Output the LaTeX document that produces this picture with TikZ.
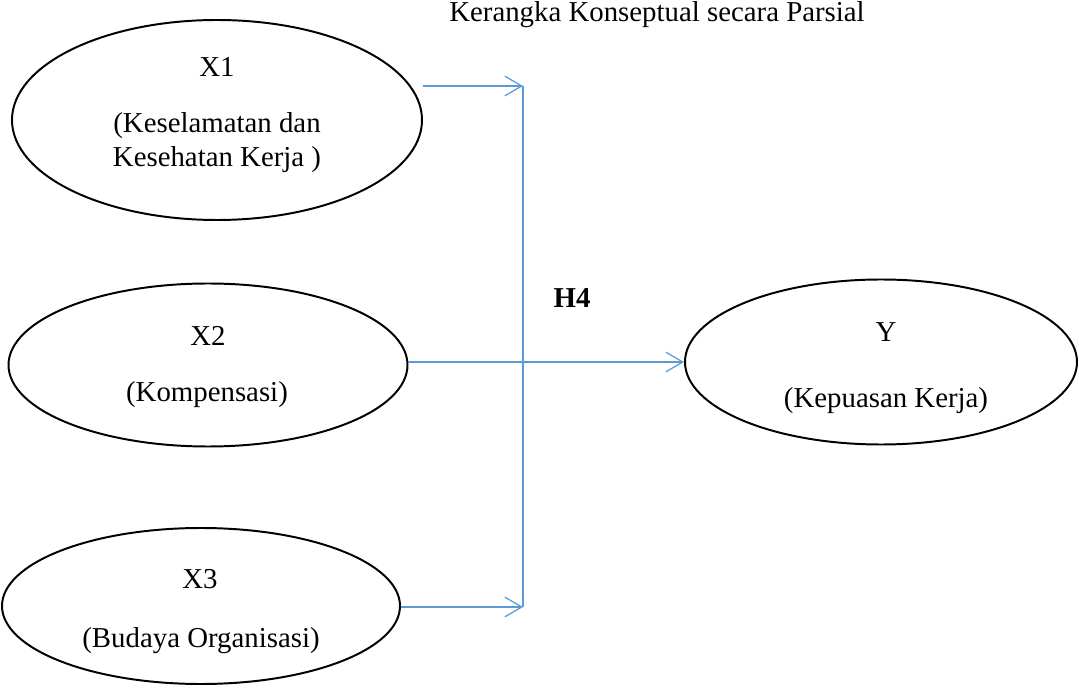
\documentclass[tikz,border=0pt]{standalone}
\usepackage{fontspec}
\setmainfont{Liberation Serif}
\usetikzlibrary{shapes.geometric,arrows.meta}

\definecolor{linkblue}{RGB}{91,155,213}
\tikzstyle{latent}=[draw,line width=1.4pt,ellipse,inner sep=0pt]
\tikzstyle{link} = [draw,line width=0.9pt,linkblue,-{Straight Barb[length=12pt,width=14pt]}]
\tikzstyle{spine} = [draw,line width=0.9pt,linkblue]
\tikzstyle{vartext} = [anchor=base,inner sep=0pt,font=\fontsize{20.5}{24}\selectfont]
\newcommand{\kkunit}{0.025cm}

\begin{document}
\begin{tikzpicture}[x=\kkunit, y=-\kkunit]
    \useasboundingbox (0,0) rectangle (1079,688);
    % First we draw the variables
    \foreach \pos/\name/\w/\h in {{(217,120)/x1/410/200}, {(208,365)/x2/399/163},
                                  {(201,606)/x3/398/156}, {(881,362)/y/392/165}}
        \node[latent, minimum width=\w*\kkunit, minimum height=\h*\kkunit] (\name) at \pos {};
    % Then the texts inside them
    \foreach \pos/\name/\txt in {{(217,77)/x1a/X1}, {(217,133)/x1b/(Keselamatan dan},
                                 {(217,167)/x1c/Kesehatan Kerja )},
                                 {(208,346)/x2a/X2}, {(207,402)/x2b/(Kompensasi)},
                                 {(200,588)/x3a/X3}, {(201,647)/x3b/(Budaya Organisasi)},
                                 {(886,342)/ya/Y}, {(886,408)/yb/(Kepuasan Kerja)}}
        \node[vartext] (\name) at \pos {\txt};
    \node[vartext] (title) at (657,22) {Kerangka Konseptual secara Parsial};
    \node[vartext] (h4) at (572,308) {\bfseries H4};
    % Connect the variables
    \coordinate (j1) at (523,86);
    \coordinate (j3) at (523,607);
    \path[spine] (j1) -- (j3);
    \path[link] (j1 -| x1.east) -- (j1);
    \path[link] (j3 -| x3.east) -- (j3);
    \path[link] (y.west -| x2.east) -- (y.west);
\end{tikzpicture}
\end{document}
